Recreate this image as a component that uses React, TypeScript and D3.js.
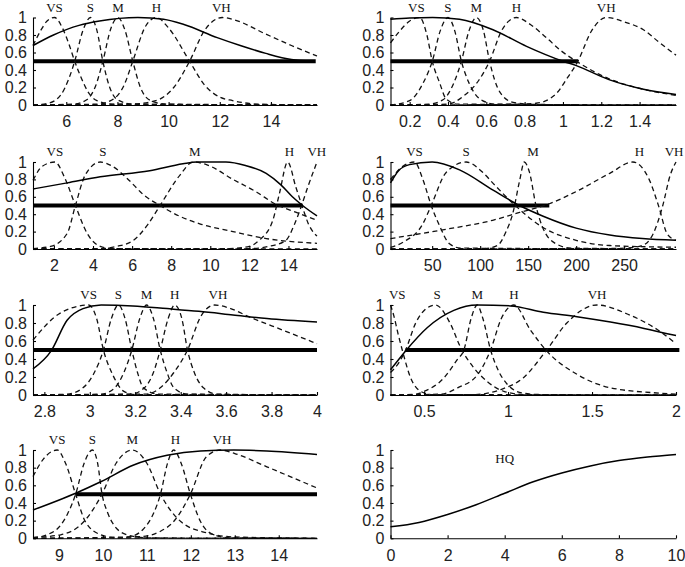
import React, { useRef, useEffect } from 'react';
import * as d3 from 'd3';

type Pt = [number, number];

const names = ['VS', 'S', 'M', 'H', 'VH'];
const yTicks = [0, 0.2, 0.4, 0.6, 0.8, 1];

// panel 1 (top left)
const p1Domain = [4.7, 15.8];
const p1Ticks = [6, 8, 10, 12, 14];
const p1LabelX = [5.54, 6.94, 8.02, 9.52, 12.06];
const p1VS: Pt[] = [[4.7, 0.68], [5.0, 0.85], [5.25, 0.96], [5.54, 1], [5.85, 0.88], [6.1, 0.7], [6.33, 0.5], [6.6, 0.3], [6.85, 0.15], [7.2, 0.05], [7.8, 0.01], [15.8, 0]];
const p1S: Pt[] = [[4.7, 0], [5.3, 0.02], [5.8, 0.12], [6.1, 0.3], [6.33, 0.5], [6.65, 0.85], [6.95, 1], [7.2, 0.85], [7.43, 0.5], [7.7, 0.2], [8.0, 0.06], [8.6, 0.01], [15.8, 0]];
const p1M: Pt[] = [[4.7, 0], [6.3, 0.01], [6.8, 0.06], [7.15, 0.22], [7.43, 0.5], [7.75, 0.88], [8.02, 1], [8.3, 0.85], [8.6, 0.5], [8.9, 0.2], [9.3, 0.05], [9.9, 0.01], [15.8, 0]];
const p1H: Pt[] = [[4.7, 0], [7.2, 0.01], [7.8, 0.06], [8.25, 0.22], [8.6, 0.5], [9.1, 0.9], [9.52, 1], [10.0, 0.88], [10.82, 0.5], [11.4, 0.23], [12.0, 0.09], [12.5, 0.05], [13.5, 0.01], [15.8, 0]];
const p1VH: Pt[] = [[4.7, 0], [8.5, 0.01], [9.5, 0.05], [10.2, 0.2], [10.82, 0.5], [11.4, 0.85], [12.1, 1], [12.6, 0.97], [13.8, 0.81], [14.8, 0.68], [15.8, 0.56]];
const p1Solid: Pt[] = [[4.7, 0.68], [5.5, 0.8], [6.5, 0.91], [7.3, 0.96], [8.8, 1.0], [9.8, 0.98], [10.6, 0.92], [11.9, 0.77], [12.8, 0.68], [13.8, 0.59], [14.8, 0.52], [15.6, 0.5]];
const p1Thick = [4.7, 15.75];

// panel 2 (top right)
const p2Domain = [0.1, 1.59];
const p2Ticks = [0.2, 0.4, 0.6, 0.8, 1, 1.2, 1.4];
const p2LabelX = [0.235, 0.4, 0.548, 0.757, 1.226];
const p2VS: Pt[] = [[0.1, 0.71], [0.15, 0.85], [0.2, 0.96], [0.252, 1], [0.29, 0.8], [0.318, 0.5], [0.357, 0.25], [0.39, 0.07], [0.45, 0.01], [1.59, 0]];
const p2S: Pt[] = [[0.1, 0], [0.2, 0.05], [0.27, 0.25], [0.318, 0.5], [0.36, 0.85], [0.4, 1], [0.435, 0.85], [0.47, 0.5], [0.51, 0.25], [0.58, 0.05], [0.65, 0.01], [1.59, 0]];
const p2M: Pt[] = [[0.1, 0], [0.3, 0.01], [0.374, 0.06], [0.43, 0.25], [0.47, 0.5], [0.51, 0.85], [0.548, 1], [0.585, 0.85], [0.617, 0.5], [0.67, 0.15], [0.74, 0.03], [0.85, 0.005], [1.59, 0]];
const p2H: Pt[] = [[0.1, 0], [0.4, 0.01], [0.48, 0.1], [0.56, 0.28], [0.617, 0.5], [0.68, 0.85], [0.757, 1], [0.83, 0.92], [0.913, 0.77], [0.99, 0.62], [1.07, 0.5], [1.24, 0.3], [1.42, 0.18], [1.59, 0.11]];
const p2VH: Pt[] = [[0.1, 0], [0.7, 0.005], [0.86, 0.02], [0.965, 0.13], [1.02, 0.3], [1.078, 0.5], [1.15, 0.85], [1.226, 1], [1.32, 0.95], [1.42, 0.86], [1.5, 0.72], [1.59, 0.57]];
const p2Solid: Pt[] = [[0.1, 0.98], [0.2, 0.995], [0.32, 1], [0.46, 0.98], [0.635, 0.86], [0.81, 0.67], [1.0, 0.5], [1.07, 0.45], [1.24, 0.29], [1.42, 0.18], [1.59, 0.12]];
const p2Thick = [0.1, 1.08];

// panel 3 (second row left)
const p3Domain = [0.93, 15.46];
const p3Ticks = [2, 4, 6, 8, 10, 12, 14];
const p3LabelX = [2.05, 4.51, 9.21, 14.05, 15.45];
const p3VS: Pt[] = [[0.93, 0.79], [1.4, 0.95], [2.05, 1], [2.55, 0.82], [3.1, 0.5], [3.7, 0.18], [4.37, 0.03], [5.0, 0.005], [15.46, 0]];
const p3S: Pt[] = [[0.93, 0.005], [1.83, 0.03], [2.68, 0.18], [3.1, 0.5], [3.6, 0.85], [4.37, 1], [5.0, 0.95], [5.8, 0.8], [6.6, 0.62], [7.43, 0.5], [8.4, 0.38], [9.46, 0.29], [11.16, 0.2], [12.86, 0.12], [15.46, 0.065]];
const p3M: Pt[] = [[0.93, 0], [4.4, 0.005], [5.22, 0.03], [6.07, 0.1], [6.8, 0.28], [7.43, 0.5], [8.45, 0.85], [9.12, 1], [9.8, 0.97], [11.16, 0.8], [12.4, 0.65], [13.3, 0.52], [14.4, 0.42], [15.46, 0.33]];
const p3H: Pt[] = [[0.93, 0], [11.0, 0.005], [12.0, 0.03], [12.5, 0.1], [13.2, 0.33], [13.54, 0.64], [13.96, 1], [14.38, 0.71], [14.72, 0.48], [15.0, 0.3], [15.32, 0.18], [15.46, 0.15]];
const p3VH: Pt[] = [[0.93, 0], [12.0, 0.005], [13.0, 0.03], [13.87, 0.1], [14.3, 0.28], [14.64, 0.48], [15.0, 0.72], [15.46, 1]];
const p3Solid: Pt[] = [[0.93, 0.69], [2.68, 0.76], [4.37, 0.83], [6.9, 0.9], [8.6, 0.98], [9.3, 1], [10.8, 1.0], [11.8, 0.96], [12.86, 0.87], [13.6, 0.74], [14.2, 0.6], [14.72, 0.5], [15.46, 0.38]];
const p3Thick = [0.93, 14.72];

// panel 4 (second row right)
const p4Domain = [6.6, 304];
const p4Ticks = [50, 100, 150, 200, 250];
const p4LabelX = [31.6, 85.4, 155, 266, 302];
const p4VS: Pt[] = [[6.6, 0.8], [19.4, 0.95], [31.6, 1], [40.3, 0.8], [49, 0.5], [57.6, 0.27], [68, 0.06], [80, 0.01], [304, 0]];
const p4S: Pt[] = [[6.6, 0.02], [20, 0.08], [40.3, 0.29], [49, 0.5], [64.6, 0.88], [85.4, 1], [102.8, 0.88], [113, 0.76], [137.5, 0.49], [165, 0.25], [200, 0.1], [235, 0.04], [304, 0.02]];
const p4M: Pt[] = [[6.6, 0], [105, 0.005], [118, 0.04], [127, 0.2], [134, 0.41], [141, 0.78], [146, 1], [151.4, 0.88], [158.3, 0.49], [165, 0.25], [179, 0.06], [195, 0.01], [304, 0]];
const p4H: Pt[] = [[6.6, 0.12], [61, 0.22], [113, 0.33], [141, 0.42], [172, 0.52], [200, 0.66], [235, 0.87], [259, 1], [276, 0.8], [286, 0.49], [295, 0.17], [304, 0.1]];
const p4VH: Pt[] = [[6.6, 0], [230, 0.005], [252, 0.01], [269, 0.04], [280, 0.17], [290, 0.49], [298, 0.85], [304, 1]];
const p4Solid: Pt[] = [[6.6, 0.76], [15, 0.9], [26.4, 0.97], [50, 1], [78.5, 0.91], [113, 0.68], [141, 0.5], [165, 0.38], [200, 0.24], [235, 0.16], [269, 0.12], [304, 0.1]];
const p4Thick = [6.6, 172];

// panel 5 (third row left)
const p5Domain = [2.75, 4.0];
const p5Ticks = [2.8, 3, 3.2, 3.4, 3.6, 3.8, 4];
const p5LabelX = [2.995, 3.126, 3.25, 3.374, 3.564];
const p5VS: Pt[] = [[2.75, 0.61], [2.87, 0.91], [2.995, 1], [3.03, 0.85], [3.06, 0.5], [3.1, 0.23], [3.15, 0.04], [3.2, 0.005], [4, 0]];
const p5S: Pt[] = [[2.75, 0], [2.9, 0.01], [2.97, 0.08], [3.02, 0.25], [3.06, 0.5], [3.095, 0.85], [3.126, 1], [3.155, 0.85], [3.185, 0.5], [3.21, 0.25], [3.236, 0.08], [3.3, 0.01], [4, 0]];
const p5M: Pt[] = [[2.75, 0], [3.05, 0.01], [3.11, 0.08], [3.15, 0.25], [3.185, 0.5], [3.22, 0.85], [3.25, 1], [3.28, 0.85], [3.31, 0.5], [3.34, 0.25], [3.37, 0.08], [3.43, 0.01], [4, 0]];
const p5H: Pt[] = [[2.75, 0], [3.18, 0.01], [3.24, 0.08], [3.28, 0.25], [3.31, 0.5], [3.345, 0.85], [3.374, 1], [3.405, 0.85], [3.43, 0.5], [3.46, 0.25], [3.5, 0.08], [3.56, 0.01], [4, 0]];
const p5VH: Pt[] = [[2.75, 0], [3.25, 0.01], [3.31, 0.08], [3.37, 0.25], [3.43, 0.5], [3.49, 0.88], [3.549, 1], [3.62, 0.96], [3.7, 0.87], [3.85, 0.72], [4.0, 0.57]];
const p5Solid: Pt[] = [[2.75, 0.29], [2.83, 0.49], [2.9, 0.83], [2.97, 0.96], [3.05, 1.0], [3.19, 0.99], [3.34, 0.96], [3.48, 0.93], [3.63, 0.89], [3.78, 0.85], [4.0, 0.81]];
const p5Thick = [2.75, 4.0];

// panel 6 (third row right)
const p6Domain = [0.3, 2];
const p6Ticks = [0.5, 1, 1.5, 2];
const p6LabelX = [0.34, 0.578, 0.816, 1.035, 1.53];
const p6VS: Pt[] = [[0.3, 1], [0.32, 0.88], [0.345, 0.68], [0.37, 0.5], [0.42, 0.19], [0.48, 0.04], [0.55, 0.005], [2, 0]];
const p6S: Pt[] = [[0.3, 0.25], [0.35, 0.36], [0.39, 0.5], [0.45, 0.8], [0.52, 0.97], [0.568, 1], [0.657, 0.79], [0.717, 0.53], [0.797, 0.3], [0.876, 0.15], [0.975, 0.04], [1.1, 0.005], [2, 0]];
const p6M: Pt[] = [[0.3, 0], [0.45, 0.01], [0.5, 0.04], [0.618, 0.19], [0.7, 0.4], [0.737, 0.5], [0.78, 0.85], [0.816, 1], [0.85, 0.85], [0.896, 0.5], [0.94, 0.28], [0.995, 0.12], [1.09, 0.02], [1.2, 0.005], [2, 0]];
const p6H: Pt[] = [[0.3, 0], [0.6, 0.01], [0.7, 0.08], [0.82, 0.23], [0.896, 0.5], [0.96, 0.85], [1.035, 1], [1.134, 0.72], [1.23, 0.49], [1.41, 0.23], [1.61, 0.08], [1.91, 0.02], [2, 0.01]];
const p6VH: Pt[] = [[0.3, 0], [0.8, 0.005], [0.956, 0.06], [1.09, 0.19], [1.23, 0.5], [1.35, 0.8], [1.53, 1], [1.71, 0.9], [1.91, 0.7], [2.0, 0.57]];
const p6Solid: Pt[] = [[0.3, 0.28], [0.39, 0.49], [0.52, 0.75], [0.677, 0.94], [0.816, 1.0], [1.015, 0.99], [1.21, 0.92], [1.41, 0.87], [1.61, 0.81], [1.81, 0.74], [2.0, 0.66]];
const p6Thick = [0.39, 2.02];

// panel 7 (bottom left)
const p7Domain = [8.41, 14.87];
const p7Ticks = [9, 10, 11, 12, 13, 14];
const p7LabelX = [8.96, 9.76, 10.67, 11.65, 12.71];
const p7VS: Pt[] = [[8.41, 0.7], [8.65, 0.9], [8.96, 1], [9.15, 0.85], [9.38, 0.5], [9.6, 0.19], [9.95, 0.04], [10.3, 0.005], [14.87, 0]];
const p7S: Pt[] = [[8.41, 0.005], [8.73, 0.04], [9.04, 0.15], [9.2, 0.28], [9.38, 0.5], [9.58, 0.86], [9.76, 1], [9.88, 0.85], [9.98, 0.5], [10.1, 0.3], [10.25, 0.15], [10.55, 0.04], [11, 0.005], [14.87, 0]];
const p7M: Pt[] = [[8.41, 0.01], [9.04, 0.04], [9.57, 0.19], [9.98, 0.5], [10.3, 0.85], [10.67, 1], [11.0, 0.85], [11.31, 0.5], [11.77, 0.19], [12.37, 0.06], [12.98, 0.015], [14.87, 0]];
const p7H: Pt[] = [[8.41, 0], [10.4, 0.005], [10.7, 0.03], [10.93, 0.11], [11.15, 0.28], [11.31, 0.5], [11.47, 0.85], [11.61, 1], [11.78, 0.85], [11.99, 0.5], [12.22, 0.19], [12.52, 0.04], [12.9, 0.005], [14.87, 0]];
const p7VH: Pt[] = [[8.41, 0], [10.86, 0.02], [11.31, 0.08], [11.61, 0.19], [11.99, 0.5], [12.35, 0.92], [12.67, 1], [13.0, 0.96], [13.73, 0.81], [14.3, 0.69], [14.87, 0.57]];
const p7Solid: Pt[] = [[8.41, 0.32], [9.38, 0.51], [9.95, 0.64], [10.7, 0.83], [11.46, 0.94], [12.22, 0.99], [12.98, 1.0], [13.73, 0.99], [14.87, 0.95]];
const p7Thick = [9.38, 14.87];

// panel 8 (bottom right, HQ)
const p8Domain = [0, 10];
const p8Ticks = [0, 2, 4, 6, 8, 10];
const hqX = [0, 1, 2, 3, 4, 5, 6, 7, 8, 9, 10];
const hqY = [0.13, 0.18, 0.27, 0.38, 0.51, 0.64, 0.74, 0.82, 0.88, 0.92, 0.95];
const hqLabel: Pt = [4, 0.9];

const cols = [[33, 317], [390.5, 676]];
const rows = [[17.5, 105], [162, 249], [305, 395], [450, 538.3]];

const panels = [
  { row: 0, col: 0, domain: p1Domain, ticks: p1Ticks, labelX: p1LabelX, dashed: [p1VS, p1S, p1M, p1H, p1VH], solid: p1Solid, thick: p1Thick },
  { row: 0, col: 1, domain: p2Domain, ticks: p2Ticks, labelX: p2LabelX, dashed: [p2VS, p2S, p2M, p2H, p2VH], solid: p2Solid, thick: p2Thick },
  { row: 1, col: 0, domain: p3Domain, ticks: p3Ticks, labelX: p3LabelX, dashed: [p3VS, p3S, p3M, p3H, p3VH], solid: p3Solid, thick: p3Thick },
  { row: 1, col: 1, domain: p4Domain, ticks: p4Ticks, labelX: p4LabelX, dashed: [p4VS, p4S, p4M, p4H, p4VH], solid: p4Solid, thick: p4Thick },
  { row: 2, col: 0, domain: p5Domain, ticks: p5Ticks, labelX: p5LabelX, dashed: [p5VS, p5S, p5M, p5H, p5VH], solid: p5Solid, thick: p5Thick },
  { row: 2, col: 1, domain: p6Domain, ticks: p6Ticks, labelX: p6LabelX, dashed: [p6VS, p6S, p6M, p6H, p6VH], solid: p6Solid, thick: p6Thick },
  { row: 3, col: 0, domain: p7Domain, ticks: p7Ticks, labelX: p7LabelX, dashed: [p7VS, p7S, p7M, p7H, p7VH], solid: p7Solid, thick: p7Thick },
  { row: 3, col: 1, domain: p8Domain, ticks: p8Ticks, labelX: [] as number[], dashed: [] as Pt[][], solid: hqX.map((x, i) => [x, hqY[i]] as Pt), thick: null as number[] | null },
];

const fmt = d3.format('~g');

const App = () => {
  const svgRef = useRef<SVGSVGElement>(null);

  useEffect(() => {
    const svg = d3.select(svgRef.current);
    svg.selectAll('*').remove();

    panels.forEach((p, idx) => {
      const [x0, x1] = cols[p.col];
      const [yTop, yBot] = rows[p.row];
      const x = d3.scaleLinear().domain(p.domain).range([x0, x1]);
      const y = d3.scaleLinear().domain([0, 1]).range([yBot, yTop]);
      const g = svg.append('g');

      const line = d3.line<Pt>()
        .x((d) => x(d[0]))
        .y((d) => y(d[1]))
        .curve(d3.curveMonotoneX);

      if (p.thick) {
        g.append('line')
          .attr('x1', x(p.thick[0]))
          .attr('x2', x(p.thick[1]))
          .attr('y1', y(0.5))
          .attr('y2', y(0.5))
          .attr('stroke', '#000')
          .attr('stroke-width', 4);
      }

      p.dashed.forEach((c) => {
        g.append('path')
          .attr('d', line(c))
          .attr('fill', 'none')
          .attr('stroke', '#111')
          .attr('stroke-width', 1.3)
          .attr('stroke-dasharray', '5,3.5');
      });

      g.append('path')
        .attr('d', line(p.solid))
        .attr('fill', 'none')
        .attr('stroke', '#000')
        .attr('stroke-width', 1.5);

      p.labelX.forEach((lx, i) => {
        g.append('text')
          .attr('x', x(lx))
          .attr('y', yTop - 6)
          .attr('text-anchor', 'middle')
          .attr('font-family', '"Liberation Serif", "Times New Roman", serif')
          .attr('font-size', 13)
          .attr('fill', '#111')
          .text(names[i]);
      });

      if (idx === 7) {
        g.append('text')
          .attr('x', x(hqLabel[0]))
          .attr('y', y(hqLabel[1]))
          .attr('dy', '0.35em')
          .attr('text-anchor', 'middle')
          .attr('font-family', '"Liberation Serif", "Times New Roman", serif')
          .attr('font-size', 13)
          .attr('fill', '#111')
          .text('HQ');
      }

      const xAxis = d3.axisBottom(x).tickValues(p.ticks).tickFormat((d) => fmt(+d))
        .tickSizeInner(-3).tickSizeOuter(0).tickPadding(11);
      const yAxis = d3.axisLeft(y).tickValues(yTicks).tickFormat((d) => fmt(+d))
        .tickSizeInner(-3).tickSizeOuter(0).tickPadding(6);

      const xg = g.append('g').attr('transform', `translate(0,${yBot})`).call(xAxis);
      const yg = g.append('g').attr('transform', `translate(${x0},0)`).call(yAxis);

      [xg, yg].forEach((a) => {
        a.attr('font-family', '"Liberation Sans", Arial, sans-serif').attr('font-size', 16);
        a.selectAll('text').attr('fill', '#222');
        a.selectAll('path, line').attr('stroke', '#000').attr('stroke-width', 1.1);
      });
    });
  }, []);

  return (
    <svg
      ref={svgRef}
      width={685}
      height={567}
      style={{ position: 'absolute', left: 0, top: 0, background: '#fff' }}
    />
  );
};

export default App;
